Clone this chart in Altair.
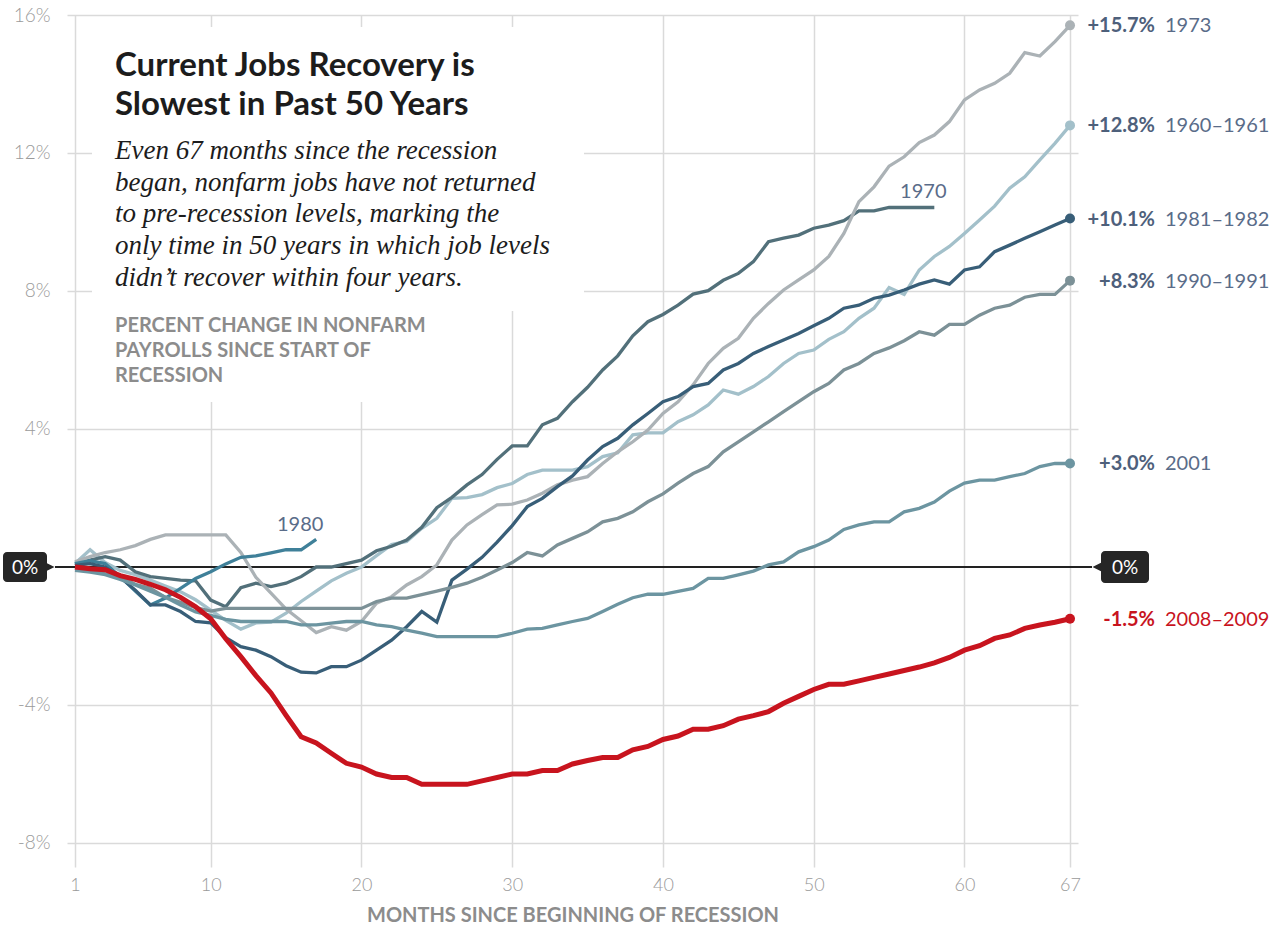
import altair as alt
import pandas as pd

# Percent change in nonfarm payrolls since the start of each recession, by month
s1960 = [0.10, 0.50, 0.13, -0.10, -0.22, -0.38, -0.55, -0.72, -0.95, -1.25,
         -1.55, -1.80, -1.62, -1.60, -1.34, -1.00, -0.70, -0.40, -0.18, 0.00,
         0.33, 0.65, 0.74, 1.12, 1.41, 1.99, 2.01, 2.10, 2.30, 2.42,
         2.68, 2.81, 2.81, 2.81, 2.91, 3.20, 3.31, 3.83, 3.89, 3.89,
         4.21, 4.41, 4.70, 5.13, 5.01, 5.23, 5.52, 5.90, 6.19, 6.29,
         6.60, 6.82, 7.21, 7.50, 8.10, 7.90, 8.61, 9.00, 9.29, 9.67,
         10.06, 10.46, 10.98, 11.31, 11.80, 12.28, 12.80]
s1970 = [0.05, 0.20, 0.30, 0.20, -0.14, -0.28, -0.33, -0.38, -0.40, -0.96,
         -1.15, -0.60, -0.47, -0.57, -0.47, -0.28, 0.00, 0.00, 0.10, 0.20,
         0.47, 0.60, 0.78, 1.15, 1.72, 2.02, 2.38, 2.68, 3.12, 3.51,
         3.51, 4.12, 4.31, 4.79, 5.21, 5.71, 6.12, 6.70, 7.11, 7.32,
         7.59, 7.91, 8.01, 8.31, 8.51, 8.85, 9.43, 9.53, 9.62, 9.82,
         9.91, 10.04, 10.32, 10.32, 10.42, 10.42, 10.42, 10.42]
s1973 = [0.15, 0.30, 0.42, 0.50, 0.62, 0.80, 0.93, 0.93, 0.93, 0.93,
         0.93, 0.42, -0.30, -0.76, -1.22, -1.56, -1.90, -1.73, -1.83, -1.58,
         -1.05, -0.86, -0.52, -0.28, 0.06, 0.78, 1.22, 1.52, 1.80, 1.82,
         1.94, 2.14, 2.38, 2.52, 2.62, 3.00, 3.34, 3.63, 3.97, 4.45,
         4.79, 5.28, 5.90, 6.34, 6.63, 7.21, 7.64, 8.03, 8.32, 8.61,
         9.00, 9.67, 10.59, 11.02, 11.62, 11.89, 12.30, 12.52, 12.91, 13.54,
         13.83, 14.02, 14.31, 14.91, 14.81, 15.23, 15.70]
s1980 = [0.10, 0.18, 0.10, -0.28, -0.70, -1.10, -0.90, -0.62, -0.33, -0.14,
         0.09, 0.28, 0.32, 0.41, 0.50, 0.50, 0.80]
s1981 = [0.05, 0.10, 0.00, -0.30, -0.67, -1.10, -1.10, -1.29, -1.58, -1.62,
         -2.05, -2.31, -2.41, -2.60, -2.86, -3.05, -3.07, -2.89, -2.89, -2.70,
         -2.41, -2.12, -1.73, -1.29, -1.60, -0.38, -0.06, 0.28, 0.72, 1.20,
         1.75, 1.99, 2.33, 2.64, 3.10, 3.49, 3.73, 4.12, 4.45, 4.79,
         4.94, 5.23, 5.32, 5.71, 5.90, 6.19, 6.39, 6.58, 6.77, 6.99,
         7.21, 7.50, 7.59, 7.79, 7.88, 8.03, 8.20, 8.32, 8.20, 8.61,
         8.70, 9.14, 9.33, 9.53, 9.72, 9.91, 10.10]
s1990 = [-0.05, -0.10, -0.20, -0.30, -0.50, -0.62, -0.88, -1.02, -1.18, -1.28,
         -1.20, -1.20, -1.20, -1.20, -1.20, -1.20, -1.20, -1.20, -1.20, -1.20,
         -1.00, -0.90, -0.90, -0.80, -0.70, -0.59, -0.47, -0.30, -0.09, 0.13,
         0.42, 0.32, 0.64, 0.83, 1.02, 1.31, 1.41, 1.60, 1.89, 2.12,
         2.43, 2.71, 2.91, 3.34, 3.63, 3.92, 4.21, 4.50, 4.79, 5.08,
         5.32, 5.71, 5.90, 6.19, 6.35, 6.56, 6.82, 6.72, 7.03, 7.03,
         7.30, 7.50, 7.59, 7.82, 7.90, 7.90, 8.30]
s2001 = [-0.10, -0.15, -0.22, -0.36, -0.52, -0.70, -0.88, -1.10, -1.30, -1.40,
         -1.52, -1.58, -1.58, -1.58, -1.58, -1.68, -1.68, -1.63, -1.58, -1.58,
         -1.68, -1.73, -1.83, -1.92, -2.02, -2.02, -2.02, -2.02, -2.02, -1.92,
         -1.80, -1.78, -1.68, -1.58, -1.49, -1.29, -1.08, -0.89, -0.79, -0.79,
         -0.71, -0.62, -0.33, -0.33, -0.23, -0.12, 0.06, 0.15, 0.44, 0.59,
         0.78, 1.09, 1.22, 1.31, 1.31, 1.60, 1.70, 1.88, 2.20, 2.43,
         2.52, 2.52, 2.62, 2.71, 2.91, 3.00, 3.00]
s2008 = [0.00, -0.05, -0.08, -0.25, -0.36, -0.50, -0.66, -0.88, -1.15, -1.50,
         -2.08, -2.60, -3.15, -3.65, -4.30, -4.92, -5.10, -5.40, -5.69, -5.80,
         -6.00, -6.10, -6.10, -6.30, -6.30, -6.30, -6.30, -6.20, -6.10, -6.00,
         -6.00, -5.90, -5.90, -5.71, -5.61, -5.52, -5.52, -5.30, -5.20, -5.00,
         -4.90, -4.70, -4.70, -4.60, -4.41, -4.31, -4.19, -3.95, -3.75, -3.55,
         -3.40, -3.40, -3.30, -3.20, -3.10, -3.00, -2.90, -2.78, -2.62, -2.41,
         -2.28, -2.07, -1.97, -1.78, -1.68, -1.60, -1.50]

series_names = ["1960–1961", "1970", "1973", "1980", "1981–1982",
                "1990–1991", "2001", "2008–2009"]
series_values = [s1960, s1970, s1973, s1980, s1981, s1990, s2001, s2008]
series_colors = ["#a3c0ca", "#52707a", "#abb2b6", "#3f8099", "#385e78",
                 "#7c9197", "#6c95a1", "#c8141e"]
label_colors = ["#4e607b", "#4e607b", "#4e607b", "#4e607b", "#4e607b",
                "#4e607b", "#4e607b", "#c8141e"]
name_colors = ["#5a6c89", "#5a6c89", "#5a6c89", "#5a6c89", "#5a6c89",
               "#5a6c89", "#5a6c89", "#c8141e"]
ended_series = ["1973", "1960–1961", "1981–1982", "1990–1991", "2001", "2008–2009"]

x_ticks = [1, 10, 20, 30, 40, 50, 60, 67]
y_ticks = [-8, -4, 4, 8, 12, 16]

title_lines = ["Current Jobs Recovery is", "Slowest in Past 50 Years"]
dek_lines = ["Even 67 months since the recession",
             "began, nonfarm jobs have not returned",
             "to pre-recession levels, marking the",
             "only time in 50 years in which job levels",
             "didn’t recover within four years."]
unit_lines = ["PERCENT CHANGE IN NONFARM", "PAYROLLS SINCE START OF", "RECESSION"]
x_title = "MONTHS SINCE BEGINNING OF RECESSION"

# ---- tables ----
rows = []
for name, vals in zip(series_names, series_values):
    for i, v in enumerate(vals):
        rows.append({"series": name, "month": i + 1, "pct": v})
df = pd.DataFrame(rows)

ends = []
for name, vals in zip(series_names, series_values):
    if name in ended_series:
        v = vals[-1]
        ends.append({"series": name, "month": len(vals), "pct": v,
                     "value_text": f"{v:+.1f}%", "name_text": name})
ends_df = pd.DataFrame(ends)

tags = []
for name, vals in zip(series_names, series_values):
    if name not in ended_series:
        tags.append({"series": name, "month": len(vals), "pct": vals[-1], "tag": name})
tags_df = pd.DataFrame(tags)

# ---- layout ----
W, H = 1011, 852
x_scale = alt.Scale(domain=[0.4693, 67.5304], nice=False, zero=False)
y_scale = alt.Scale(domain=[-8.6957, 16], nice=False, zero=False)

x_axis = alt.Axis(values=x_ticks, grid=True, gridColor="#dadada", gridWidth=1.5,
                  domain=False, ticks=False, labelFont="Lato", labelFontSize=18,
                  labelFontWeight=300, labelColor="#9a9a9a", labelPadding=9,
                  labelFlush=False, title=x_title, titleFont="Lato",
                  titleFontSize=20, titleFontWeight="bold", titleColor="#8c8c8c",
                  titlePadding=11)
y_axis = alt.Axis(values=y_ticks, labelExpr="datum.value + '%'", grid=True,
                  gridColor="#dadada", gridWidth=1.5, domain=False, ticks=False,
                  labelFont="Lato", labelFontSize=19, labelFontWeight=300,
                  labelColor="#9a9a9a", labelPadding=17, title=None)

X = alt.X("month:Q", scale=x_scale, axis=x_axis)
Y = alt.Y("pct:Q", scale=y_scale, axis=y_axis)
line_color = alt.Color("series:N", scale=alt.Scale(domain=series_names, range=series_colors),
                       legend=None)

one = pd.DataFrame({"k": [0]})

# white panel behind the headline text
mask_top = alt.Chart(one).mark_rect(color="white").encode(
    x=alt.value(25), x2=alt.value(517), y=alt.value(12), y2=alt.value(296))
mask_low = alt.Chart(one).mark_rect(color="white").encode(
    x=alt.value(25), x2=alt.value(383), y=alt.value(12), y2=alt.value(387))

zero_df = pd.DataFrame({"pct": [0.0]})
zero_line = alt.Chart(zero_df).mark_rule(color="#222222", strokeWidth=2).encode(
    y=Y, x=alt.value(-12), x2=alt.value(1025))

others = alt.Chart(df).transform_filter(
    alt.datum.series != "2008–2009").mark_line(strokeWidth=3.3).encode(
    x=X, y=Y, color=line_color, detail="series:N", order="month:Q")
current = alt.Chart(df).transform_filter(
    alt.datum.series == "2008–2009").mark_line(strokeWidth=5).encode(
    x=X, y=Y, color=line_color, order="month:Q")

dots = alt.Chart(ends_df).mark_circle(size=100, opacity=1).encode(
    x=X, y=Y, color=line_color)

value_labels = alt.Chart(ends_df).mark_text(
    align="right", baseline="middle", dx=85, dy=1, font="Lato",
    fontSize=20, fontWeight="bold").encode(
    x=X, y=Y, text="value_text:N",
    color=alt.Color("series:N", scale=alt.Scale(domain=series_names, range=label_colors),
                    legend=None))
name_labels = alt.Chart(ends_df).mark_text(
    align="left", baseline="middle", dx=95, dy=1, font="Lato",
    fontSize=20, fontWeight="normal").encode(
    x=X, y=Y, text="name_text:N",
    color=alt.Color("series:N", scale=alt.Scale(domain=series_names, range=name_colors),
                    legend=None))

tag_1970 = alt.Chart(tags_df).transform_filter(alt.datum.series == "1970").mark_text(
    align="center", baseline="alphabetic", dx=-11, dy=-10, font="Lato",
    fontSize=20, fontWeight="normal", color="#5a6c89").encode(x=X, y=Y, text="tag:N")
tag_1980 = alt.Chart(tags_df).transform_filter(alt.datum.series == "1980").mark_text(
    align="center", baseline="alphabetic", dx=-16, dy=-8, font="Lato",
    fontSize=20, fontWeight="normal", color="#5a6c89").encode(x=X, y=Y, text="tag:N")

headline = alt.Chart(one).mark_text(
    text=title_lines, align="left", baseline="alphabetic", font="Lato",
    fontSize=33, fontWeight="bold", color="#1c1c1c", lineHeight=39).encode(
    x=alt.value(48), y=alt.value(61))
dek = alt.Chart(one).mark_text(
    text=dek_lines, align="left", baseline="alphabetic", font="Liberation Serif",
    fontSize=27, fontStyle="italic", color="#1c1c1c", lineHeight=31.7).encode(
    x=alt.value(48), y=alt.value(144))
units = alt.Chart(one).mark_text(
    text=unit_lines, align="left", baseline="alphabetic", font="Lato",
    fontSize=20, fontWeight="bold", color="#8c8c8c", lineHeight=25).encode(
    x=alt.value(48), y=alt.value(317))

# "0%" call-outs at both ends of the zero line
pill_left = alt.Chart(one).mark_rect(color="#262626", cornerRadius=4).encode(
    x=alt.value(-64), x2=alt.value(-20), y=alt.value(537), y2=alt.value(567))
arrow_left = alt.Chart(one).mark_point(
    shape="M -1 -1 L 1 0 L -1 1 Z", filled=True, size=81, color="#262626", opacity=1).encode(
    x=alt.value(-17), y=alt.value(552))
text_left = alt.Chart(one).mark_text(
    text="0%", align="center", baseline="middle", font="Lato", fontSize=19,
    color="white").encode(x=alt.value(-42), y=alt.value(553))

pill_right = alt.Chart(one).mark_rect(color="#262626", cornerRadius=4).encode(
    x=alt.value(1034), x2=alt.value(1082), y=alt.value(536), y2=alt.value(568))
arrow_right = alt.Chart(one).mark_point(
    shape="M 1 -1 L -1 0 L 1 1 Z", filled=True, size=81, color="#262626", opacity=1).encode(
    x=alt.value(1030), y=alt.value(552))
text_right = alt.Chart(one).mark_text(
    text="0%", align="center", baseline="middle", font="Lato", fontSize=19,
    color="white").encode(x=alt.value(1058), y=alt.value(553))

chart = alt.layer(
    mask_top, mask_low, zero_line, others, current, dots,
    value_labels, name_labels, tag_1970, tag_1980,
    headline, dek, units,
    pill_left, arrow_left, text_left, pill_right, arrow_right, text_right,
).resolve_scale(color="independent").properties(
    width=W, height=H,
    autosize=alt.AutoSizeParams(type="none"),
    padding={"left": 67, "top": 15, "right": 198, "bottom": 64},
    background="white",
).configure_view(stroke=None)

chart.save("out.html", embed_options={"renderer": "svg", "actions": False})
